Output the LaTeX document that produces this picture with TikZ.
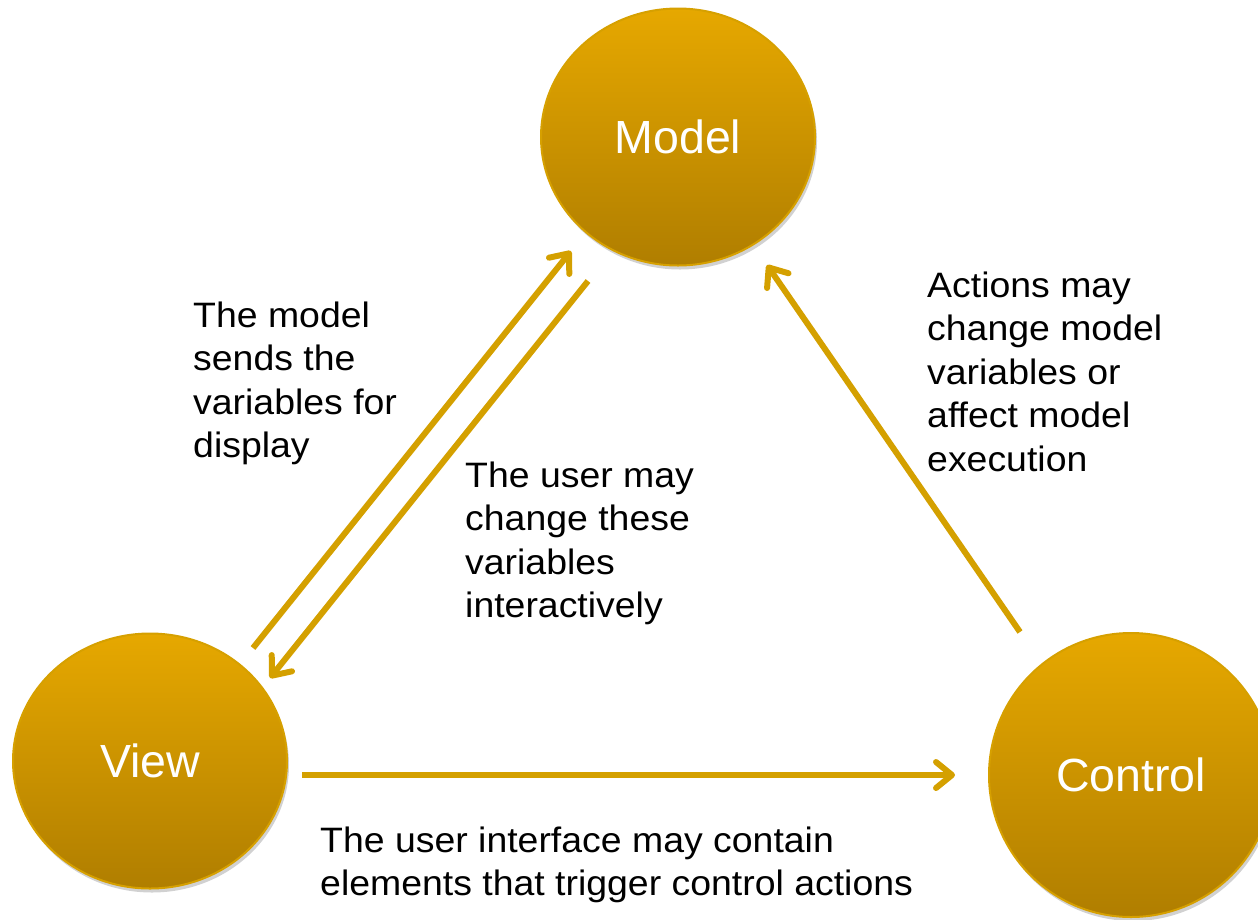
\documentclass[tikz,border=0pt]{standalone}
\usepackage{fontspec}
\setmainfont{Liberation Sans}
\newfontfamily\descfont{Liberation Sans}[FakeStretch=1.06]
\usetikzlibrary{arrows.meta,shapes.geometric,shadows}
\definecolor{gtop}{RGB}{230,168,0}
\definecolor{gbot}{RGB}{176,126,0}
\definecolor{gline}{RGB}{214,160,0}
\definecolor{garrow}{RGB}{212,160,0}
\newcommand\mvlines[1]{\vtop{\halign{##\hfil\cr#1\crcr}}}
\begin{document}
\begin{tikzpicture}[x=1pt,y=-1pt,
  blob/.style={ellipse, inner sep=0pt, draw=gline, line width=2pt,
    top color=gtop, bottom color=gbot, text=white,
    font=\fontsize{46.5}{50}\selectfont,
    drop shadow={shadow xshift=2pt, shadow yshift=-4pt, opacity=0.18, fill=black}},
  desc/.style={anchor=base west, inner sep=0pt, text=black,
    font=\descfont\fontsize{35.3}{43.6}\selectfont},
  flow/.style={draw=garrow, line width=6pt,
    -{Straight Barb[length=16pt, width=26pt, line cap=round, line join=round]}}
]
\useasboundingbox (0,0) rectangle (1258,919);
\clip (0,0) rectangle (1258,919);

\node[blob, minimum width=274pt, minimum height=257pt] (model) at (678,137) {Model};
\node[blob, minimum width=274pt, minimum height=255pt] (view) at (150,761) {View};
\node[blob, minimum width=284pt, minimum height=284pt] (control) at (1131,775) {Control};

\coordinate (vmS) at (253,648);
\coordinate (vmE) at (571,251);
\coordinate (mvS) at (588,281);
\coordinate (mvE) at (270,678);
\coordinate (cmS) at (1020,632);
\coordinate (cmE) at (767,265);
\coordinate (vcS) at (302,775);
\coordinate (vcE) at (955,775);

\draw[flow] (vmS) -- (vmE);
\draw[flow] (mvS) -- (mvE);
\draw[flow] (cmS) -- (cmE);
\draw[flow] (vcS) -- (vcE);

\node[desc] (sendtxt) at (193,327) {\mvlines{The model\cr sends the\cr variables for\cr display}};
\node[desc] (usertxt) at (465,487) {\mvlines{The user may\cr change these\cr variables\cr interactively}};
\node[desc] (acttxt) at (927,297) {\mvlines{Actions may\cr change model\cr variables or\cr affect model\cr execution}};
\node[desc] (uitxt) at (320,852) {\mvlines{The user interface may contain\cr elements that trigger control actions}};
\end{tikzpicture}
\end{document}
